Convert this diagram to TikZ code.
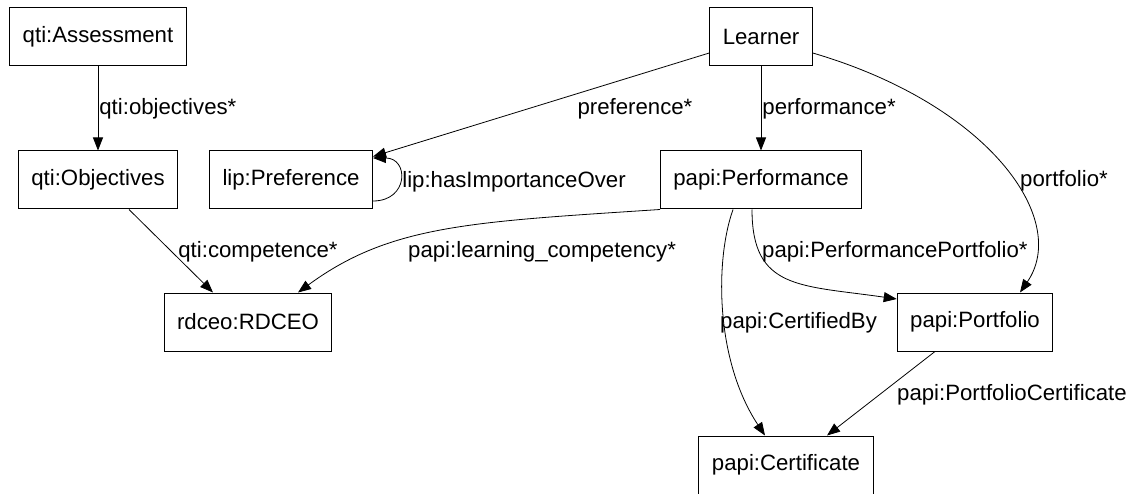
\documentclass[tikz,border=0pt]{standalone}
\usepackage{fontspec}
\setmainfont{Liberation Sans}
\usepackage{tikz}
\usetikzlibrary{arrows.meta,positioning}

\begin{document}
\begin{tikzpicture}[
    x=1pt, y=-1pt,
    font=\fontsize{22.2}{26}\selectfont,
    class/.style={rectangle, draw, line width=1pt, minimum height=58pt, inner xsep=13pt, inner ysep=0pt},
    lbl/.style={inner sep=1pt},
    arrow/.style={-{Triangle[length=13pt,width=10pt]}, line width=0.8pt}
]
    \useasboundingbox (0,0) rectangle (1131,494);

    % Classes
    \node[class] (assess) at (98,37) {qti:Assessment};
    \node[class] (objectives) at (98,180) {qti:Objectives};
    \node[class] (pref) at (291,180) {lip:Preference};
    \node[class] (learner) at (761,37) {Learner};
    \node[class] (perf) at (761,180) {papi:Performance};
    \node[class] (rdceo) at (248,322) {rdceo:RDCEO};
    \node[class] (portfolio) at (975,322) {papi:Portfolio};
    \node[class] (cert) at (786,465) {papi:Certificate};

    % Assessment side
    \draw[arrow] (assess) -- node[lbl, right] (objlabel) {qti:objectives*} (objectives);
    \draw[arrow] ([xshift=31pt]objectives.south) -- ([xshift=-35pt]rdceo.north);
    \node[lbl] (complabel) at (258,252) {qti:competence*};

    % Learner properties
    \draw[arrow] ([yshift=-16pt]learner.west) -- ([yshift=-6pt]pref.north east);
    \node[lbl] (preflabel) at (635,109) {preference*};
    \draw[arrow] ([yshift=-21pt]pref.east) .. controls +(36,0) and +(36,0) .. ([yshift=22pt]pref.east);
    \node[lbl] (importlabel) at (514,182) {lip:hasImportanceOver};
    \draw[arrow] (learner) -- node[lbl, right] (perflabel) {performance*} (perf);
    \draw[arrow] ([yshift=-16pt]learner.east) .. controls (990,105) and (1070,220) .. ([xshift=45pt]portfolio.north);
    \node[lbl] (portlabel) at (1064,181) {portfolio*};

    % Performance links
    \draw[arrow] ([xshift=-101pt]perf.south) .. controls (470,222) and (390,225) .. ([xshift=50pt]rdceo.north);
    \node[lbl, anchor=west] (lclabel) at (407,252) {papi:learning\_competency*};
    \draw[arrow] ([xshift=-9pt]perf.south) .. controls (752,290) and (800,285) .. ([yshift=23pt]portfolio.west);
    \node[lbl, anchor=west] (pplabel) at (761,252) {papi:PerformancePortfolio*};
    \draw[arrow] ([xshift=-28pt]perf.south) .. controls (715,260) and (715,360) .. ([xshift=-21pt]cert.north);
    \node[lbl, anchor=west] (cblabel) at (719,323) {papi:CertifiedBy};

    % Certificate
    \draw[arrow] ([xshift=-40pt]portfolio.south) -- ([xshift=41pt]cert.north);
    \node[lbl, anchor=west] (pclabel) at (896,395) {papi:PortfolioCertificate};
\end{tikzpicture}
\end{document}
